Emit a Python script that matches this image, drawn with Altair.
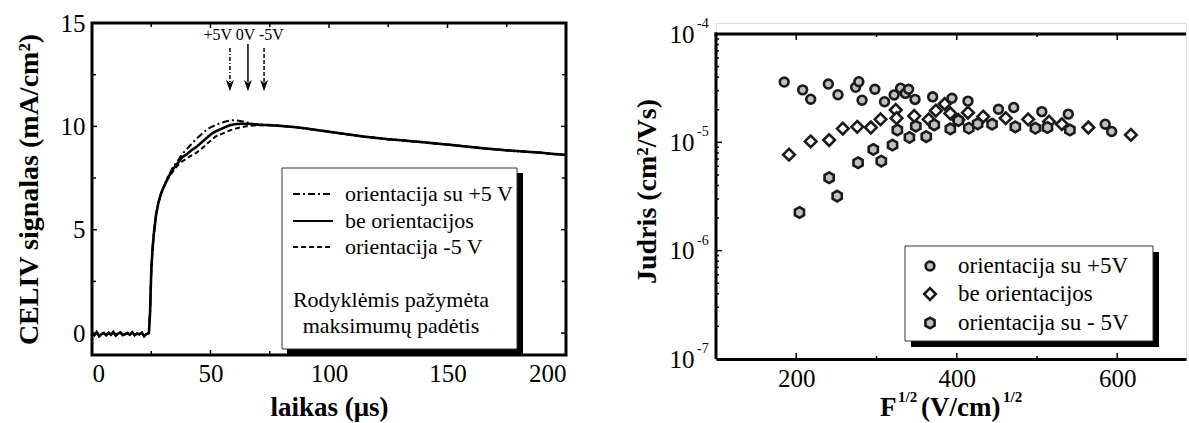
import altair as alt
import pandas as pd

FONT = "Liberation Serif"

# ---------------- left panel data (CELIV transients) ----------------
series_left = ["orientacija su +5 V", "be orientacijos", "orientacija -5 V"]

t_base = [0, 1, 2, 3, 4, 5, 6, 7, 8, 9, 10, 11, 12, 13, 14, 15, 16, 17, 18, 19, 20, 21, 22, 23, 24]
v_base = [0.0, -0.1, 0.05, -0.15, -0.05, 0.0, -0.1, 0.02, -0.08, 0.05, -0.12, -0.02, 0.03,
          -0.1, -0.05, 0.0, -0.08, 0.04, -0.1, -0.02, -0.06, 0.02, -0.15, -0.05, 0.0]

t_main = [24.5, 25, 25.5, 26, 27, 28, 29, 30, 32, 34, 36, 38, 40, 42, 44, 46, 48, 50, 52, 54,
          56, 58, 60, 62, 64, 66, 68, 70, 72, 75, 80, 85, 90, 95, 100, 105, 110, 115, 120, 125,
          130, 135, 140, 145, 150, 155, 160, 165, 170, 175, 180, 185, 190, 195, 200]
v_0V = [1.0, 3.0, 4.0, 4.7, 5.7, 6.3, 6.7, 7.0, 7.5, 7.9, 8.2, 8.5, 8.65, 8.85, 9.0, 9.2, 9.4, 9.6,
        9.75, 9.85, 9.95, 10.05, 10.1, 10.12, 10.13, 10.13, 10.1, 10.08, 10.07, 10.06, 10.02, 9.97,
        9.9, 9.82, 9.74, 9.66, 9.58, 9.5, 9.44, 9.38, 9.33, 9.28, 9.23, 9.17, 9.12, 9.06, 9.0,
        8.94, 8.89, 8.84, 8.8, 8.76, 8.72, 8.66, 8.62]
v_p5 = [1.0, 3.0, 4.0, 4.7, 5.7, 6.3, 6.7, 7.0, 7.55, 8.0, 8.3, 8.65, 8.9, 9.15, 9.4, 9.6, 9.8, 9.95,
        10.05, 10.15, 10.22, 10.28, 10.3, 10.27, 10.22, 10.17, 10.12, 10.1, 10.08, 10.06, 10.02, 9.97,
        9.9, 9.82, 9.74, 9.66, 9.58, 9.5, 9.44, 9.38, 9.33, 9.28, 9.23, 9.17, 9.12, 9.06, 9.0,
        8.94, 8.89, 8.84, 8.8, 8.76, 8.72, 8.66, 8.62]
v_m5 = [1.0, 3.0, 4.0, 4.7, 5.7, 6.3, 6.7, 7.0, 7.45, 7.8, 8.1, 8.3, 8.45, 8.6, 8.72, 8.9, 9.1, 9.3,
        9.5, 9.6, 9.7, 9.8, 9.87, 9.93, 9.98, 10.02, 10.04, 10.05, 10.06, 10.05, 10.02, 9.97,
        9.9, 9.82, 9.74, 9.66, 9.58, 9.5, 9.44, 9.38, 9.33, 9.28, 9.23, 9.17, 9.12, 9.06, 9.0,
        8.94, 8.89, 8.84, 8.8, 8.76, 8.72, 8.66, 8.62]

arrow_t = [58.2, 65.8, 72.6]
arrow_top = [13.79, 13.98, 13.79]
arrow_bottom = [12.14, 12.14, 12.14]
arrow_head = [11.97, 11.97, 11.97]
arrow_text = "+5V 0V -5V"
arrow_text_t = 64
arrow_text_v = 14.42

left_note = ["Rodyklėmis pažymėta", "maksimumų padėtis"]

# ---------------- right panel data (mobility) ----------------
series_right = ["orientacija su +5V", "be orientacijos", "orientacija su - 5V"]

p5_x = [185, 208, 218, 240, 252, 274, 278, 282, 298, 310, 322, 330, 336, 340, 348, 370, 394, 414,
        452, 471, 506, 539, 585, 593]
p5_y = [3.6e-5, 3.05e-5, 2.5e-5, 3.45e-5, 2.75e-5, 3.22e-5, 3.63e-5, 2.45e-5, 3.09e-5, 2.37e-5,
        2.74e-5, 3.16e-5, 2.83e-5, 3.09e-5, 2.49e-5, 2.63e-5, 2.55e-5, 2.4e-5, 2.02e-5, 2.1e-5,
        1.92e-5, 1.82e-5, 1.47e-5, 1.26e-5]

d0_x = [191, 218, 241, 258, 276, 293, 305, 324, 325, 347, 365, 374, 385, 392, 402, 414, 433, 461,
        489, 515, 531, 564, 617]
d0_y = [7.7e-6, 1.02e-5, 1.05e-5, 1.34e-5, 1.39e-5, 1.37e-5, 1.63e-5, 1.99e-5, 1.67e-5, 1.75e-5,
        1.63e-5, 1.96e-5, 2.26e-5, 1.85e-5, 1.61e-5, 1.88e-5, 1.73e-5, 1.67e-5, 1.63e-5, 1.55e-5,
        1.47e-5, 1.37e-5, 1.17e-5]

m5_x = [204, 241, 251, 277, 296, 306, 320, 326, 341, 349, 362, 372, 392, 402, 415, 426, 444, 473,
        498, 513, 541]
m5_y = [2.25e-6, 4.71e-6, 3.19e-6, 6.48e-6, 8.6e-6, 6.71e-6, 9.44e-6, 1.3e-5, 1.11e-5, 1.41e-5,
        1.13e-5, 1.45e-5, 1.33e-5, 1.59e-5, 1.35e-5, 1.48e-5, 1.47e-5, 1.39e-5, 1.35e-5, 1.37e-5,
        1.3e-5]

decades = [1e-4, 1e-5, 1e-6, 1e-7]
exponents = ["-4", "-5", "-6", "-7"]

# ---------------- sizes / styles ----------------
W1, H1 = 474, 332
W2, H2 = 470, 325
TOP2 = 11                      # right frame starts 11 px lower than the left one
H2T = H2 + TOP2
PX_DEC = H2 / 3.0
XDOM2 = [100, 100 + W2 / 0.8025]
YDOM2 = [1e-7, 1e-4 * 10 ** (TOP2 / PX_DEC)]
HEX = "M0,-1L0.866,-0.5L0.866,0.5L0,1L-0.866,0.5L-0.866,-0.5Z"
HEAD = "M-0.7,-1L0,1L0.7,-1L0,-0.45Z"
GREY = "#c0c0c0"
INK = "#1a1a1a"
DASHES = [[7, 3, 2, 3], [1, 0], [5, 3]]
WIDTHS = [2.0, 2.6, 2.0]

one = pd.DataFrame({"a": [0]})

# ================= LEFT PANEL =================
xs1 = alt.Scale(domain=[0, 200], nice=False, zero=False)
ys1 = alt.Scale(domain=[-1.06, 15], nice=False, zero=False)
ax_x1 = alt.Axis(values=[0, 50, 100, 150, 200], title="laikas (μs)", ticks=False, tickSize=0,
                 domain=False, grid=False, labelFont=FONT, labelFontSize=25, labelColor="black",
                 labelPadding=6, titleFont=FONT, titleFontSize=27, titleFontWeight="bold",
                 titleColor="black", titlePadding=8)
ax_y1 = alt.Axis(values=[0, 5, 10, 15], title="CELIV signalas (mA/cm²)", ticks=False, tickSize=0,
                 domain=False, grid=False, labelFont=FONT, labelFontSize=25, labelColor="black",
                 labelPadding=7, titleFont=FONT, titleFontSize=28, titleFontWeight="bold",
                 titleColor="black", titlePadding=17)


def X1(f="t"):
    return alt.X(f"{f}:Q", scale=xs1, axis=ax_x1, title="laikas (μs)")


def Y1(f="v"):
    return alt.Y(f"{f}:Q", scale=ys1, axis=ax_y1, title="CELIV signalas (mA/cm²)")


curve_layers = []
for s, vals, dsh, w in zip(series_left, [v_p5, v_0V, v_m5], DASHES, WIDTHS):
    d = pd.DataFrame({"t": t_base + t_main, "v": v_base + vals})
    d["i"] = range(len(d))
    curve_layers.append(alt.Chart(d).mark_line(clip=True, color="black", strokeWidth=w,
                                               strokeDash=dsh).encode(x=X1(), y=Y1(), order="i:Q"))

frame1 = alt.Chart(one).mark_rect(filled=False, stroke="black", strokeWidth=3).encode(
    x=alt.value(0), x2=alt.value(W1), y=alt.value(0), y2=alt.value(H1))


def ticks_x(vals, length, y_top, y_bot, Xf, field):
    d = pd.DataFrame({field: vals})
    b = alt.Chart(d).mark_rule(color="black", strokeWidth=1.5).encode(
        x=Xf(field), y=alt.value(y_bot), y2=alt.value(y_bot - length))
    t = alt.Chart(d).mark_rule(color="black", strokeWidth=1.5).encode(
        x=Xf(field), y=alt.value(y_top), y2=alt.value(y_top + length))
    return [b, t]


def ticks_y(vals, length, W, Yf, field, right=True):
    d = pd.DataFrame({field: vals})
    out = [alt.Chart(d).mark_rule(color="black", strokeWidth=1.5).encode(
        y=Yf(field), x=alt.value(0), x2=alt.value(length))]
    if right:
        out.append(alt.Chart(d).mark_rule(color="black", strokeWidth=1.5).encode(
            y=Yf(field), x=alt.value(W), x2=alt.value(W - length)))
    return out


tick_layers1 = (ticks_x([0, 50, 100, 150, 200], 5, 0, H1, X1, "t") + ticks_x([25, 75, 125, 175], 4, 0, H1, X1, "t")
                + ticks_y([0, 5, 10, 15], 5, W1, Y1, "v") + ticks_y([2.5, 7.5, 12.5], 4, W1, Y1, "v"))

arrow_layers = []
for tt, top, bot, hd, dsh in zip(arrow_t, arrow_top, arrow_bottom, arrow_head, [[4, 2, 1, 2], [1, 0], [4, 2]]):
    d = pd.DataFrame({"t": [tt], "v": [top], "v2": [bot], "h": [hd]})
    arrow_layers.append(alt.Chart(d).mark_rule(color="black", strokeWidth=1.5, strokeDash=dsh).encode(
        x=X1(), y=Y1(), y2="v2:Q"))
    arrow_layers.append(alt.Chart(d).mark_point(shape=HEAD, filled=True, color="black", size=130,
                                                opacity=1).encode(x=X1(), y=Y1("h")))
arrow_lbl = alt.Chart(pd.DataFrame({"t": [arrow_text_t], "v": [arrow_text_v], "txt": [arrow_text]})).mark_text(
    font=FONT, fontSize=16, color="black", align="center", baseline="middle").encode(
    x=X1(), y=Y1(), text="txt:N")

# legend box (left)
leg1 = [
    alt.Chart(one).mark_rect(color="black").encode(
        x=alt.value(195), x2=alt.value(431), y=alt.value(150), y2=alt.value(331)),
    alt.Chart(one).mark_rect(fill="white", stroke="#333333", strokeWidth=1).encode(
        x=alt.value(190), x2=alt.value(425), y=alt.value(145), y2=alt.value(326)),
]
leg_y = [171, 198, 224]
for lbl, dsh, yy in zip(series_left, DASHES, leg_y):
    leg1.append(alt.Chart(one).mark_rule(color="black", strokeWidth=2, strokeDash=dsh).encode(
        x=alt.value(201), x2=alt.value(241), y=alt.value(yy)))
    leg1.append(alt.Chart(one).mark_text(font=FONT, fontSize=22, align="left", baseline="middle",
                                         color="black").encode(
        x=alt.value(253), y=alt.value(yy), text=alt.value(lbl)))
for lbl, yy in zip(left_note, [277, 303]):
    leg1.append(alt.Chart(one).mark_text(font=FONT, fontSize=22, align="center", baseline="middle",
                                         color="black").encode(
        x=alt.value(299), y=alt.value(yy), text=alt.value(lbl)))

left = alt.layer(*curve_layers, *tick_layers1, *arrow_layers, arrow_lbl, *leg1, frame1).properties(
    width=W1, height=H1)

# ================= RIGHT PANEL =================
xs2 = alt.Scale(domain=XDOM2, nice=False, zero=False)
ys2 = alt.Scale(type="log", domain=YDOM2, nice=False)
ax_x2 = alt.Axis(values=[200, 400, 600], title=None, ticks=False, tickSize=0, domain=True,
                 domainWidth=3, domainColor="black", grid=False, labelFont=FONT, labelFontSize=25,
                 labelColor="black", labelPadding=7)
ax_y2 = alt.Axis(values=decades, labelExpr="'10'", title="Judris (cm²/Vs)", ticks=False, tickSize=0,
                 domain=False, grid=False, labelFont=FONT,
                 labelFontSize=25, labelColor="black", labelPadding=22, titleFont=FONT,
                 titleFontSize=28, titleFontWeight="bold", titleColor="black", titlePadding=8)


def X2(f="x"):
    return alt.X(f"{f}:Q", scale=xs2, axis=ax_x2, title=None)


def Y2(f="y"):
    return alt.Y(f"{f}:Q", scale=ys2, axis=ax_y2, title="Judris (cm²/Vs)")


pt_layers = []
for xs_, ys_, shp, fc, sz in [(d0_x, d0_y, "diamond", "white", 135),
                              (p5_x, p5_y, "circle", GREY, 78),
                              (m5_x, m5_y, HEX, GREY, 112)]:
    d = pd.DataFrame({"x": xs_, "y": ys_})
    pt_layers.append(alt.Chart(d).mark_point(shape=shp, fill=fc, filled=True, stroke=INK,
                                             strokeWidth=2.6, size=sz, opacity=1).encode(x=X2(), y=Y2()))

top_rule = alt.Chart(one).mark_rule(color="black", strokeWidth=3).encode(
    x=alt.value(-1.5), x2=alt.value(W2), y=alt.value(TOP2))
left_rule = alt.Chart(one).mark_rule(color="black", strokeWidth=3).encode(
    x=alt.value(0), y=alt.value(TOP2 - 1.5), y2=alt.value(H2T))

exp_txt = alt.Chart(pd.DataFrame({"y": decades, "e": exponents})).mark_text(
    font=FONT, fontSize=14, align="left", baseline="middle", color="black", dy=-10).encode(
    x=alt.value(-19), y=Y2(), text="e:N")

minor_vals = [m * 10 ** e for e in (-7, -6, -5) for m in range(2, 10)]
tick_layers2 = (ticks_x([200, 400, 600], 6, TOP2, H2T, X2, "x") + ticks_x([300, 500], 3, TOP2, H2T, X2, "x")
                + ticks_y(decades, 6, W2, Y2, "y", right=False)
                + ticks_y(minor_vals, 3, W2, Y2, "y", right=False))

# x title with superscripts (F^1/2 (V/cm)^1/2)
xt = [("F", 164, 385, 27), ("1/2", 182, 374, 15), ("(V/cm)", 205, 385, 27), ("1/2", 287, 374, 15)]
xtitle = [alt.Chart(one).mark_text(font=FONT, fontSize=fs, fontWeight="bold", align="left",
                                   baseline="middle", color="black").encode(
    x=alt.value(xx), y=alt.value(yy), text=alt.value(s)) for s, xx, yy, fs in xt]

# legend box (right)
leg2 = [
    alt.Chart(one).mark_rect(color="black").encode(
        x=alt.value(195), x2=alt.value(443), y=alt.value(229), y2=alt.value(324)),
    alt.Chart(one).mark_rect(fill="white", stroke="#333333", strokeWidth=1).encode(
        x=alt.value(189), x2=alt.value(437), y=alt.value(223), y2=alt.value(318)),
]
for lbl, shp, fc, sz, yy in zip(series_right, ["circle", "diamond", HEX], [GREY, "white", GREY],
                                [78, 135, 112], [243, 271, 300]):
    leg2.append(alt.Chart(one).mark_point(shape=shp, fill=fc, filled=True, stroke=INK, strokeWidth=2.6,
                                          size=sz, opacity=1).encode(x=alt.value(214), y=alt.value(yy)))
    leg2.append(alt.Chart(one).mark_text(font=FONT, fontSize=23, align="left", baseline="middle",
                                         color="black").encode(
        x=alt.value(242), y=alt.value(yy), text=alt.value(lbl)))

right = alt.layer(*pt_layers, *tick_layers2, exp_txt, top_rule, left_rule, *xtitle, *leg2).properties(
    width=W2, height=H2T)

chart = alt.hconcat(left, right, spacing=64).properties(
    padding={"left": 14, "top": 10, "right": 0, "bottom": 0},
).configure_view(stroke=None).configure(background="white")

chart.save("out.html", embed_options={"renderer": "svg", "actions": False})
